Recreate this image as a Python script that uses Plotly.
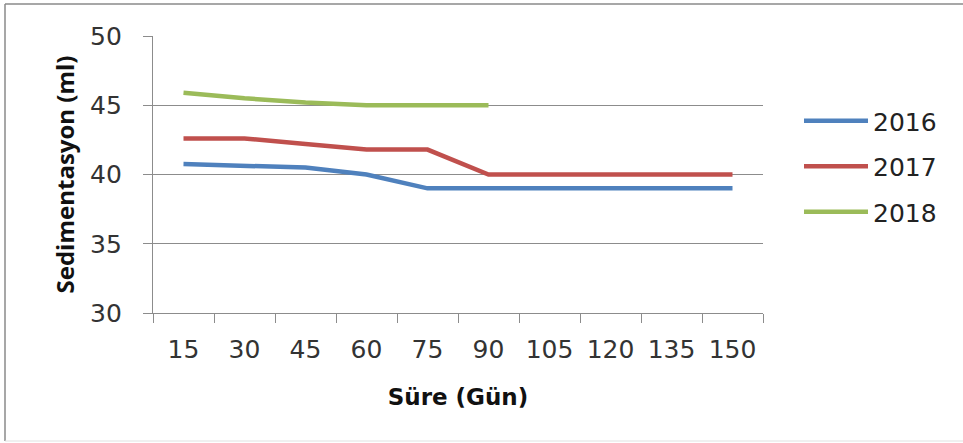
import plotly.graph_objects as go

days = ["15", "30", "45", "60", "75", "90", "105", "120", "135", "150"]
s2016 = [40.75, 40.6, 40.5, 40.0, 39.0, 39.0, 39.0, 39.0, 39.0, 39.0]
s2017 = [42.6, 42.6, 42.2, 41.8, 41.8, 40.0, 40.0, 40.0, 40.0, 40.0]
s2018 = [45.9, 45.5, 45.2, 45.0, 45.0, 45.0, None, None, None, None]
series = [("2016", s2016, "#4F81BD"), ("2017", s2017, "#C0504D"), ("2018", s2018, "#9BBB59")]
y_ticks = [30, 35, 40, 45, 50]

fig = go.Figure()
for name, vals, col in series:
    fig.add_trace(go.Scatter(x=days, y=vals, mode="lines", name=name, legendgroup=name,
                             line=dict(color=col, width=4.5), connectgaps=False))

TICKFONT = "DejaVu Sans"
FW, FH = 963, 443
L, T = 153, 36
R = FW - 763
B = FH - 313
W, H = FW - L - R, FH - T - B

def px(xr):
    return (xr - L) / W

def py(yr):
    return (FH - B - yr) / H

border = dict(color="#8a8a8a", width=1.5)
fig.update_layout(
    width=FW, height=FH,
    margin=dict(l=L, r=R, t=T, b=B),
    paper_bgcolor="white", plot_bgcolor="white",
    font=dict(family=TICKFONT, size=25, color="#333333"),
    showlegend=True,
    legend=dict(x=px(799), y=py(98), xanchor="left", yanchor="top",
                font=dict(family=TICKFONT, size=25, color="#222222"),
                tracegroupgap=10, itemwidth=64, bgcolor="rgba(0,0,0,0)"),
    xaxis=dict(type="category", showgrid=False, showline=True, linecolor="#8c8c8c", linewidth=1.3,
               ticks="outside", ticklen=9, tickcolor="#8c8c8c", tickson="boundaries",
               tickfont=dict(family=TICKFONT, size=25, color="#333333"), ticklabelstandoff=14,
               title=dict(text="<b>Süre (Gün)</b>", font=dict(family="DejaVu Sans", size=23, color="#111111"), standoff=25),
               range=[-0.5, 9.5]),
    yaxis=dict(range=[30, 50], tickvals=y_ticks, showgrid=True, gridcolor="#8c8c8c", gridwidth=1,
               showline=True, linecolor="#8c8c8c", linewidth=1.3, ticks="outside", ticklen=9,
               tickcolor="#8c8c8c", zeroline=False,
               tickfont=dict(family=TICKFONT, size=25, color="#333333"), ticklabelstandoff=16,
               title=dict(text="<b>Sedimentasyon (ml)</b>", font=dict(family="Open Sans", size=24, color="#111111"), standoff=8)),
    shapes=[
        dict(type="line", xref="paper", yref="paper", x0=px(5), x1=px(963), y0=py(4), y1=py(4), line=border),
        dict(type="line", xref="paper", yref="paper", x0=px(5), x1=px(5), y0=py(4), y1=py(441), line=border),
        dict(type="line", xref="paper", yref="paper", x0=px(5), x1=px(963), y0=py(441), y1=py(441),
             line=dict(color="#e2e2e2", width=1.2)),
    ],
)

fig.write_html("out.html", config={"displayModeBar": False},
               post_script="document.body.style.margin='0';document.body.style.overflow='hidden';")
